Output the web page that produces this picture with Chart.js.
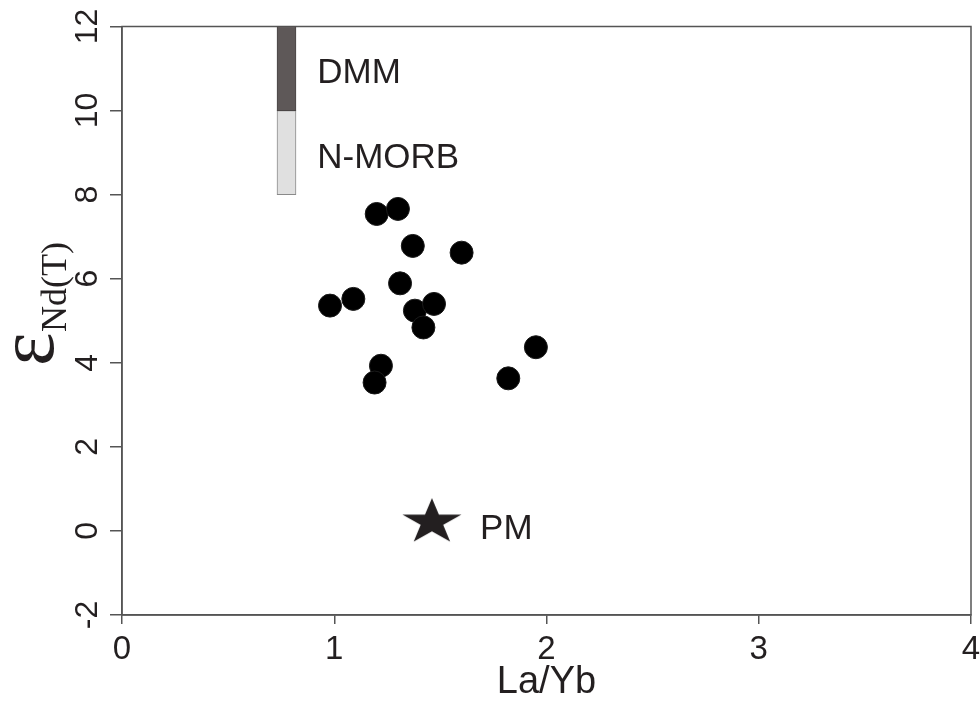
<!DOCTYPE html>
<html><head><meta charset="utf-8">
<script src="https://cdn.jsdelivr.net/npm/chart.js@4.4.1/dist/chart.umd.min.js"></script>
<style>html,body{margin:0;padding:0;background:#fff;} canvas{display:block;}</style>
</head><body>
<canvas id="c" width="980" height="706"></canvas>
<script>
// ---- data ----
const sampleLaYb = [1.20, 1.30, 1.37, 1.60, 1.31, 0.98, 1.09, 1.38, 1.47, 1.42, 1.22, 1.19, 1.95, 1.82];
const sampleENd  = [7.54, 7.66, 6.78, 6.62, 5.89, 5.36, 5.52, 5.24, 5.40, 4.84, 3.93, 3.53, 4.37, 3.63];
const pmLaYb = [1.46];
const pmENd  = [0.21];
const reservoirNames = ['DMM', 'N-MORB'];
const reservoirLaYb  = [0.775, 0.775];
const reservoirLow   = [10, 8];
const reservoirHigh  = [12, 10];
const xTickValues = [0, 1, 2, 3, 4];
const yTickValues = [-2, 0, 2, 4, 6, 8, 10, 12];

const TXT = '#231f20';
const AX = '#555555';
const SANS = '"Liberation Sans", Arial, sans-serif';
const SERIF = '"Liberation Serif", "Times New Roman", serif';

// filled, slightly flattened five-point star for PM
function makeStar() {
  const c = document.createElement('canvas');
  c.width = 66; c.height = 66;
  const g = c.getContext('2d');
  const cx = 33, cy = 33, rx = 31, ry = 24, ir = 0.382;
  g.beginPath();
  for (let i = 0; i < 10; i++) {
    const a = -Math.PI / 2 + i * Math.PI / 5;
    const f = (i % 2) ? ir : 1;
    const x = cx + Math.cos(a) * rx * f;
    const y = cy + Math.sin(a) * ry * f;
    if (i === 0) g.moveTo(x, y); else g.lineTo(x, y);
  }
  g.closePath();
  g.fillStyle = '#231f20';
  g.fill();
  return c;
}

const boxPlugin = {
  id: 'box',
  beforeDatasetsDraw(chart) {
    const a = chart.chartArea, ctx = chart.ctx;
    ctx.save();
    ctx.strokeStyle = AX; ctx.lineWidth = 1.5;
    ctx.strokeRect(a.left, a.top, a.right - a.left, a.bottom - a.top);
    ctx.restore();
  }
};

const labelPlugin = {
  id: 'labels',
  afterDraw(chart) {
    const ctx = chart.ctx, xs = chart.scales.x, ys = chart.scales.y;
    ctx.save();
    ctx.fillStyle = TXT;
    ctx.textBaseline = 'alphabetic';
    ctx.textAlign = 'left';
    ctx.font = '35px ' + SANS;
    ctx.fillText(reservoirNames[0], xs.getPixelForValue(0.92), ys.getPixelForValue(10.66));
    ctx.fillText(reservoirNames[1], xs.getPixelForValue(0.92), ys.getPixelForValue(8.63));
    ctx.fillText('PM', xs.getPixelForValue(1.687), ys.getPixelForValue(-0.19));
    // y axis title: epsilon with subscript Nd(T)
    ctx.translate(53, 366);
    ctx.rotate(-Math.PI / 2);
    ctx.font = '80px ' + SERIF;
    ctx.fillText('\u03b5', 0, 0);
    ctx.font = '36px ' + SERIF;
    ctx.fillText('Nd(T)', 34, 13);
    ctx.restore();
  }
};

new Chart(document.getElementById('c'), {
  type: 'scatter',
  data: {
    datasets: [
      {
        type: 'bar',
        label: reservoirNames[0],
        data: [{x: reservoirLaYb[0], y: [reservoirLow[0], reservoirHigh[0]]}],
        backgroundColor: '#5e5858',
        borderColor: '#4a4545',
        borderWidth: 1,
        barThickness: 19,
        grouped: false,
        borderSkipped: false
      },
      {
        type: 'bar',
        label: reservoirNames[1],
        data: [{x: reservoirLaYb[1], y: [reservoirLow[1], reservoirHigh[1]]}],
        backgroundColor: '#e0e0e0',
        borderColor: '#8a8a8a',
        borderWidth: 1,
        barThickness: 19,
        grouped: false,
        borderSkipped: false
      },
      {
        label: 'samples',
        data: sampleLaYb.map((v, i) => ({x: v, y: sampleENd[i]})),
        backgroundColor: '#000000',
        borderColor: '#1a1a1a',
        borderWidth: 1,
        pointRadius: 11.5,
        pointHoverRadius: 11.5
      },
      {
        label: 'PM',
        data: pmLaYb.map((v, i) => ({x: v, y: pmENd[i]})),
        pointStyle: makeStar(),
        pointRadius: 30
      }
    ]
  },
  options: {
    responsive: false,
    animation: false,
    events: [],
    layout: {autoPadding: false, padding: {top: 26.5, right: 9, left: 0, bottom: 0}},
    plugins: {legend: {display: false}, tooltip: {enabled: false}},
    scales: {
      x: {
        type: 'linear',
        min: 0, max: 4,
        offset: false,
        afterBuildTicks: s => { s.ticks = xTickValues.map(v => ({value: v})); },
        afterFit: s => { s.height = 91; s.paddingLeft = 0; s.paddingRight = 0; },
        border: {display: true, color: AX, width: 1.5},
        grid: {display: true, offset: false, drawOnChartArea: false, drawTicks: true, tickLength: 9, color: AX, lineWidth: 1.5},
        ticks: {color: TXT, font: {family: SANS, size: 33}, padding: 6, maxRotation: 0, minRotation: 0},
        title: {display: true, text: 'La/Yb', color: TXT, font: {family: SANS, size: 38}, padding: {top: 0, bottom: 1}}
      },
      y: {
        type: 'linear',
        min: -2, max: 12,
        afterBuildTicks: s => { s.ticks = yTickValues.map(v => ({value: v})); },
        afterFit: s => { s.width = 122; s.paddingTop = 0; s.paddingBottom = 0; },
        border: {display: true, color: AX, width: 1.5},
        grid: {display: true, drawOnChartArea: false, drawTicks: true, tickLength: 12, color: AX, lineWidth: 1.5},
        ticks: {color: TXT, font: {family: SANS, size: 32}, padding: 4, minRotation: 90, maxRotation: 90, crossAlign: 'center'}
      }
    }
  },
  plugins: [boxPlugin, labelPlugin]
});
</script>
</body></html>
